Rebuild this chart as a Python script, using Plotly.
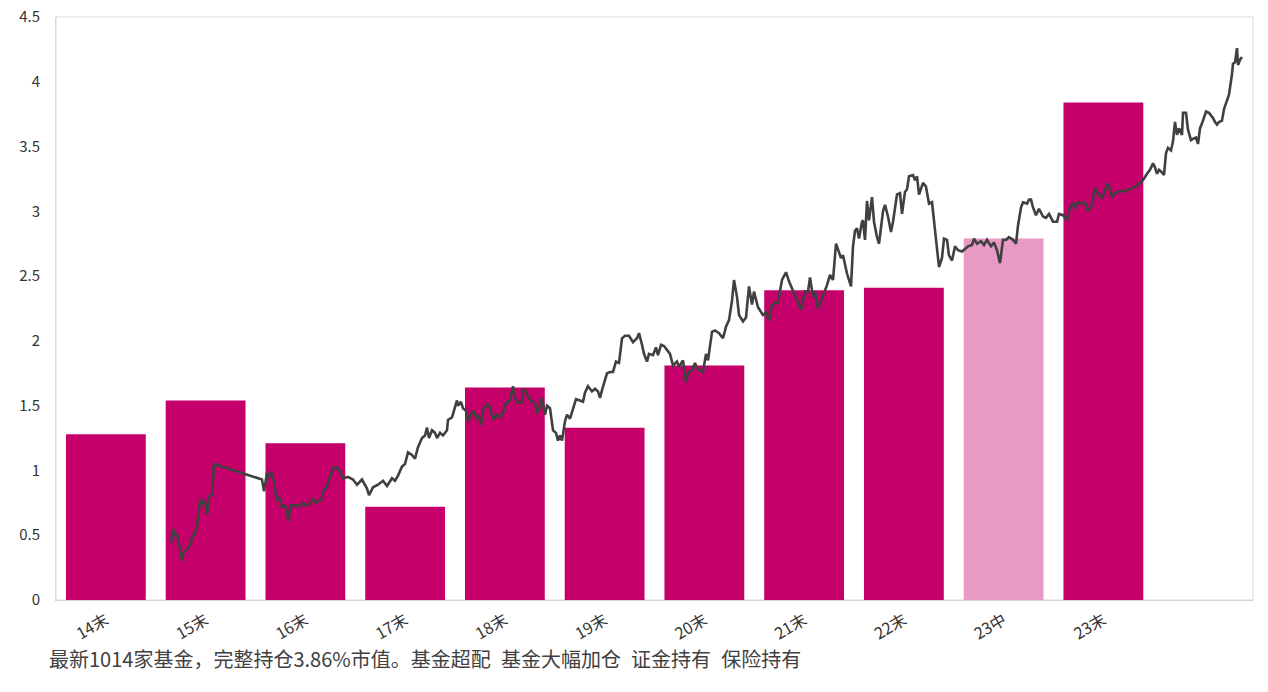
import plotly.graph_objects as go

# ---- bar data ----
categories = ["14末", "15末", "16末", "17末", "18末", "19末", "20末", "21末", "22末", "23中", "23末"]
bar_values = [1.28, 1.54, 1.21, 0.72, 1.64, 1.33, 1.81, 2.39, 2.41, 2.79, 3.84]
bar_colors = ["#C5006A"] * 9 + ["#E89AC4", "#C5006A"]

# ---- line data: (time index, value) ----
line_points = [
    (1, 0.44), (3, 0.55), (5, 0.49), (7, 0.51), (10, 0.40), (12, 0.30), (14, 0.37), (18, 0.40), (21, 0.44),
    (22, 0.49), (25, 0.51), (27, 0.58), (30, 0.76), (32, 0.78), (33, 0.75), (35, 0.76), (37, 0.66), (39, 0.80),
    (42, 0.81), (44, 1.05),
    (92, 0.93), (94, 0.84), (97, 0.98), (98, 0.94), (101, 0.99), (104, 0.91), (107, 0.76), (108, 0.80),
    (110, 0.77), (112, 0.71), (114, 0.73), (117, 0.71), (118, 0.61), (121, 0.73), (123, 0.73), (127, 0.73),
    (129, 0.72), (133, 0.75), (136, 0.73), (139, 0.74), (143, 0.78), (146, 0.75), (148, 0.76), (152, 0.78),
    (153, 0.84), (157, 0.87), (159, 0.93),
    (163, 1.02), (168, 1.02), (173, 0.94), (178, 0.95), (183, 0.93), (187, 0.89), (192, 0.93), (197, 0.86),
    (199, 0.81), (203, 0.87), (208, 0.89), (213, 0.92), (217, 0.88), (222, 0.94), (225, 0.92), (228, 0.96),
    (232, 1.03), (235, 1.05), (238, 1.14), (242, 1.12), (245, 1.09), (248, 1.18), (252, 1.25), (255, 1.27),
    (257, 1.33), (259, 1.25), (262, 1.31), (265, 1.29), (267, 1.25), (270, 1.29), (273, 1.27), (277, 1.31),
    (278, 1.39), (282, 1.41), (284, 1.47), (287, 1.54), (288, 1.50), (291, 1.53), (293, 1.48), (296, 1.46),
    (298, 1.38), (303, 1.46), (307, 1.40), (308, 1.43), (311, 1.35), (313, 1.47), (317, 1.51), (320, 1.49),
    (323, 1.39), (327, 1.43), (330, 1.41), (333, 1.45), (336, 1.52), (340, 1.54), (343, 1.65), (345, 1.56),
    (348, 1.52), (352, 1.53), (353, 1.62), (356, 1.61), (358, 1.57), (362, 1.53), (365, 1.52), (367, 1.44),
    (370, 1.49), (372, 1.56), (375, 1.43), (377, 1.50), (380, 1.48), (383, 1.31), (386, 1.29), (388, 1.23),
    (390, 1.27), (392, 1.23), (395, 1.38), (397, 1.43), (400, 1.40), (403, 1.47), (406, 1.55), (410, 1.54),
    (413, 1.53), (415, 1.60), (418, 1.65), (422, 1.61), (425, 1.63), (428, 1.61), (430, 1.56), (432, 1.62),
    (435, 1.70), (437, 1.75), (440, 1.76), (443, 1.76), (446, 1.84), (449, 1.83), (452, 2.02), (455, 2.04),
    (459, 2.04), (463, 1.99), (467, 2.02), (469, 2.06), (472, 1.97), (474, 1.90), (477, 1.84), (479, 1.90),
    (483, 1.89), (486, 1.95), (488, 1.89), (491, 1.97), (494, 1.96), (497, 1.93), (500, 1.90), (503, 1.81),
    (507, 1.84), (509, 1.80), (513, 1.85), (516, 1.68), (518, 1.75), (522, 1.77), (525, 1.83), (527, 1.79),
    (530, 1.77), (533, 1.76), (536, 1.90), (538, 1.85), (542, 2.07), (545, 2.08), (549, 2.06), (553, 2.02),
    (556, 2.11), (559, 2.16),
    (562, 2.31), (564, 2.47), (567, 2.34), (569, 2.20), (573, 2.15), (576, 2.18), (579, 2.42), (582, 2.28),
    (584, 2.38), (588, 2.26), (593, 2.20), (596, 2.22), (599, 2.16), (602, 2.28), (605, 2.29), (608, 2.30),
    (612, 2.47), (616, 2.53), (619, 2.46), (623, 2.39), (627, 2.31), (631, 2.24), (635, 2.38), (638, 2.38),
    (640, 2.49), (643, 2.34), (645, 2.38), (648, 2.25), (652, 2.33), (655, 2.39), (657, 2.43), (660, 2.51),
    (663, 2.47),
    (666, 2.75), (668, 2.71), (671, 2.64), (673, 2.66), (677, 2.52), (681, 2.42), (683, 2.73), (685, 2.85),
    (687, 2.87), (689, 2.79), (692, 2.92), (693, 2.93), (695, 2.78), (697, 3.08), (699, 2.93), (702, 3.11),
    (704, 2.92), (707, 2.80), (709, 2.75), (713, 3.00), (715, 3.05), (718, 2.96), (721, 2.84), (723, 2.92),
    (727, 3.13), (730, 3.14), (732, 2.98), (735, 3.15), (737, 3.17), (739, 3.27), (743, 3.28), (745, 3.24),
    (747, 3.27), (749, 3.13), (753, 3.22), (756, 3.19), (759, 3.06), (762, 3.07), (764, 2.92), (767, 2.73),
    (769, 2.57), (772, 2.64), (774, 2.79), (777, 2.78), (779, 2.66), (782, 2.62), (785, 2.73), (788, 2.70),
    (792, 2.69), (795, 2.71), (798, 2.73), (802, 2.74), (804, 2.79), (807, 2.75), (811, 2.77), (814, 2.74),
    (817, 2.78), (821, 2.73), (824, 2.76), (827, 2.70), (830, 2.60), (833, 2.78), (836, 2.78), (839, 2.80),
    (843, 2.78), (846, 2.75), (848, 2.89), (851, 3.03), (853, 3.07), (857, 3.06), (859, 3.09),
    (861, 3.09), (863, 3.03), (866, 2.97), (869, 3.02), (873, 2.96), (876, 2.95), (879, 2.98), (883, 2.92),
    (887, 2.92), (889, 2.98), (893, 2.97), (897, 2.93), (899, 3.01), (903, 3.07), (905, 3.02), (908, 3.07),
    (912, 3.06), (915, 3.07), (918, 3.00), (922, 3.05), (925, 3.18), (928, 3.14), (932, 3.10), (935, 3.16),
    (938, 3.22), (942, 3.11), (945, 3.14), (950, 3.16), (953, 3.15), (957, 3.16), (962, 3.18),
    (965, 3.19), (970, 3.22), (973, 3.24), (977, 3.29), (980, 3.32), (983, 3.37), (985, 3.34), (987, 3.29),
    (989, 3.32), (992, 3.30), (994, 3.28), (996, 3.45), (998, 3.49), (1001, 3.47), (1003, 3.54), (1005, 3.69),
    (1007, 3.59), (1009, 3.64), (1012, 3.59), (1013, 3.76), (1016, 3.76), (1018, 3.63), (1021, 3.55),
    (1023, 3.56), (1026, 3.57), (1028, 3.52), (1030, 3.64), (1033, 3.70), (1036, 3.77), (1039, 3.76),
    (1043, 3.72), (1045, 3.69), (1047, 3.67), (1049, 3.69), (1052, 3.70), (1054, 3.79), (1057, 3.86),
    (1059, 3.90), (1062, 4.06), (1063, 4.14), (1065, 4.15), (1067, 4.26), (1068, 4.13), (1070, 4.17),
    (1072, 4.19),
]
line_t = [p[0] for p in line_points]
line_v = [p[1] for p in line_points]

GAP = "\u00a0\u00a0\u200a"
note_text = "最新1014家基金，完整持仓3.86%市值。基金超配" + GAP + "基金大幅加仓" + GAP + "证金持有" + GAP + "保险持有"

FONT = "Noto Sans CJK SC, Microsoft YaHei, sans-serif"

fig = go.Figure()
fig.add_trace(go.Bar(
    x=list(range(len(categories))), y=bar_values,
    marker=dict(color=bar_colors, line=dict(width=0)),
    width=0.8, showlegend=False, hoverinfo="y",
))
fig.add_trace(go.Scatter(
    x=line_t, y=line_v, xaxis="x2", mode="lines",
    line=dict(color="#404040", width=2.6), showlegend=False,
))

fig.update_layout(
    width=1268, height=692,
    margin=dict(l=56, r=15, t=17, b=92, autoexpand=False),
    paper_bgcolor="white", plot_bgcolor="white",
    font=dict(family=FONT, size=15, color="#333333"),
    xaxis=dict(
        range=[-0.5, 11.5], tickmode="array",
        tickvals=list(range(len(categories))), ticktext=categories,
        tickangle=-30, showgrid=False, zeroline=False, automargin=False,
        showline=True, linecolor="#cbd3df", linewidth=1,
        ticks="outside", ticklen=4, tickcolor="rgba(0,0,0,0)",
        tickfont=dict(size=16, color="#333333"),
    ),
    xaxis2=dict(
        overlaying="x", range=[-114, 1083], visible=False,
        showgrid=False, zeroline=False, automargin=False,
    ),
    yaxis=dict(
        range=[0, 4.5], dtick=0.5, showgrid=False, zeroline=False, automargin=False,
        showline=True, linecolor="#d9d9d9", linewidth=1,
        ticks="outside", ticklen=12, tickcolor="rgba(0,0,0,0)",
        tickfont=dict(size=15, color="#333333"),
    ),
    shapes=[dict(type="rect", xref="paper", yref="paper", x0=0, y0=0, x1=1, y1=1,
                 line=dict(color="#d9d9d9", width=1), layer="below")],
    annotations=[dict(
        text=note_text, xref="paper", yref="paper",
        x=-0.0075, y=-0.0995, xanchor="left", yanchor="middle",
        showarrow=False, font=dict(size=20, color="#404040", family=FONT),
    )],
)

fig.write_html("out.html")
